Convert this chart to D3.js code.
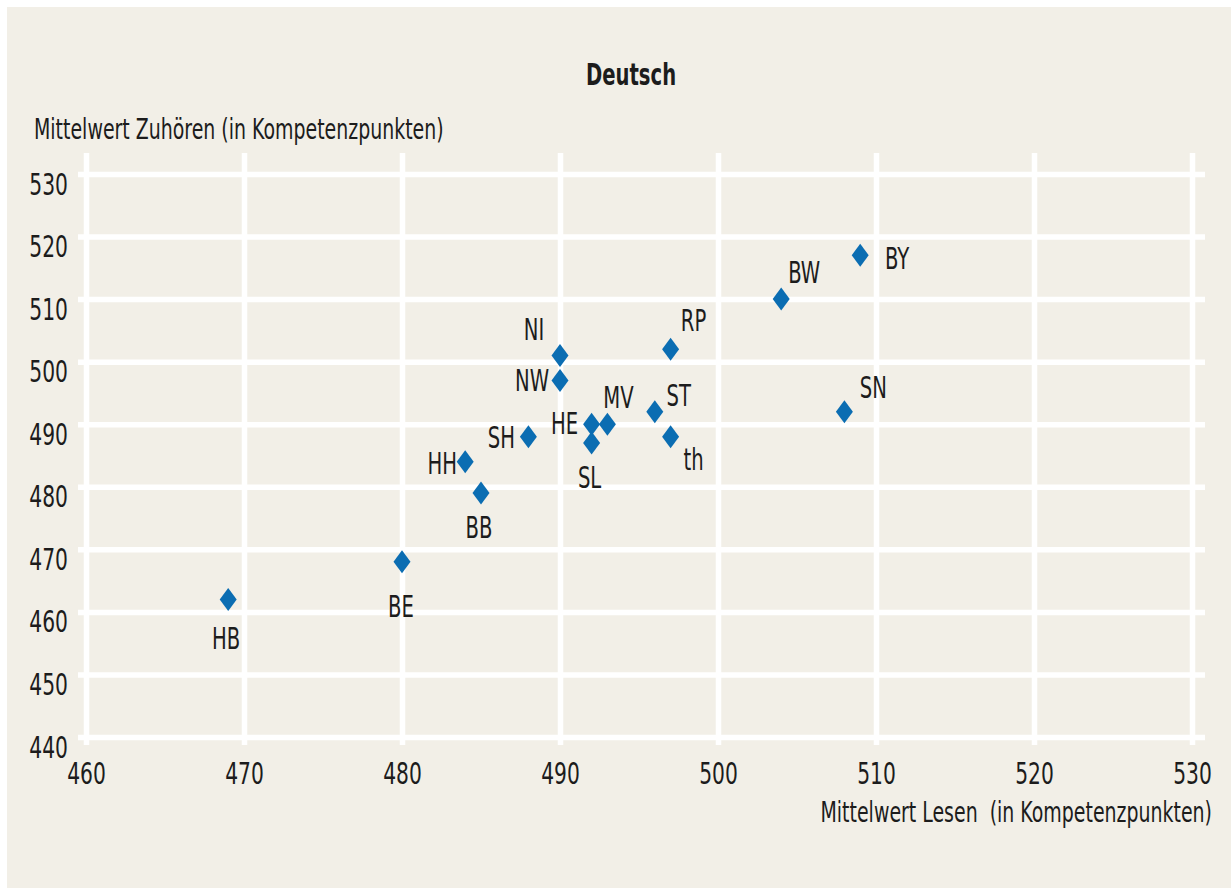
<!DOCTYPE html>
<html><head><meta charset="utf-8">
<script src="https://cdn.jsdelivr.net/npm/d3@7"></script>
<style>
html,body{margin:0;padding:0;background:#fff;}
svg{display:block;}
text{font-family:"Liberation Sans Narrow","DejaVu Sans Condensed","Liberation Sans",sans-serif;fill:#1c1c1c;white-space:pre;}
</style></head>
<body>
<svg id="chart" width="1231" height="888"></svg>
<script>
// ---- data ----
const states = ["HB","BE","BB","HH","SH","NI","NW","HE","SL","MV","ST","th","RP","BW","BY","SN"];
const lesen  = [469, 480, 485, 484, 488, 490, 490, 492, 492, 493, 496, 497, 497, 504, 509, 508];
const zuhoeren = [462, 468, 479, 484, 488, 501, 497, 490, 487, 490, 492, 488, 502, 510, 517, 492];
const xTicks = [460, 470, 480, 490, 500, 510, 520, 530];
const yTicks = [440, 450, 460, 470, 480, 490, 500, 510, 520, 530];
const title = "Deutsch";
const yTitle = "Mittelwert Zuhören (in Kompetenzpunkten)";
const xTitle = "Mittelwert Lesen  (in Kompetenzpunkten)";

// label placement (pixel offsets of label centre from the marker)
const labelOffsets = {
  HB:[-2,39], BE:[-1,44], BB:[-2,34], HH:[-23,1], SH:[-27,0], NI:[-26,-26],
  NW:[-28,0], HE:[-27,-1], SL:[-2,34], MV:[11,-27], ST:[24,-17], th:[23,22],
  RP:[23,-29], BW:[23,-27], BY:[37,3], SN:[29,-25]
};

const svg = d3.select("#chart");
svg.append("rect").attr("x",7).attr("y",7).attr("width",1224).attr("height",881).attr("fill","#f2efe7");

const x = d3.scaleLinear().domain([460,530]).range([86,1192]);
const y = d3.scaleLinear().domain([440,530]).range([737,174]);

// measure condensing factor
const FS = 29;
const meas = svg.append("text").attr("font-size",FS).text(yTitle);
const natural = meas.node().getComputedTextLength();
meas.remove();
const sx = 410 / natural;

function place(sel, tx, ty){
  sel.attr("transform", `translate(${tx},${ty}) scale(${sx},1)`);
}

// x axis / vertical grid
const gx = svg.append("g").attr("transform","translate(0,745)")
  .call(d3.axisBottom(x).tickValues(xTicks).tickSize(-592).tickFormat(d3.format("d")));
gx.select(".domain").remove();
gx.selectAll(".tick line").attr("stroke","#fff").attr("stroke-width",5.5);
gx.selectAll(".tick text").attr("y",null).attr("dy",null).attr("x",null)
  .attr("font-size",31).attr("fill","#1c1c1c").attr("text-anchor","middle")
  .each(function(){ place(d3.select(this),0,39); });

// y axis / horizontal grid
const gy = svg.append("g").attr("transform","translate(78,0)")
  .call(d3.axisLeft(y).tickValues(yTicks).tickSize(-1127).tickFormat(d3.format("d")));
gy.select(".domain").remove();
gy.selectAll(".tick line").attr("stroke","#fff").attr("stroke-width",5.5);
gy.selectAll(".tick text").attr("x",null).attr("dy",null)
  .attr("font-size",31).attr("fill","#1c1c1c").attr("text-anchor","end")
  .each(function(){ place(d3.select(this),-10,20); });
svg.selectAll(".tick").attr("font-family",null);

// titles
place(svg.append("text").attr("font-size",30).attr("font-weight","bold").attr("text-anchor","middle").text(title), 631, 85);
place(svg.append("text").attr("font-size",FS).attr("text-anchor","start").text(yTitle), 34, 139);
place(svg.append("text").attr("font-size",FS).attr("text-anchor","end").text(xTitle), 1212, 822);

// points
const pts = states.map((s,i)=>({s, lx:lesen[i], ly:zuhoeren[i]}));
const diamond = "M0,-11.5L8.5,0L0,11.5L-8.5,0Z";
svg.append("g").selectAll("path").data(pts).join("path")
  .attr("d",diamond)
  .attr("transform",d=>`translate(${x(d.lx)},${y(d.ly)})`)
  .attr("fill","#0b6db2");

// labels
svg.append("g").selectAll("text").data(pts).join("text")
  .attr("font-size",30).attr("text-anchor","middle").attr("dy","0.36em")
  .text(d=>d.s)
  .each(function(d){
    const o = labelOffsets[d.s];
    place(d3.select(this), x(d.lx)+o[0], y(d.ly)+o[1]);
  });
</script>
</body></html>
